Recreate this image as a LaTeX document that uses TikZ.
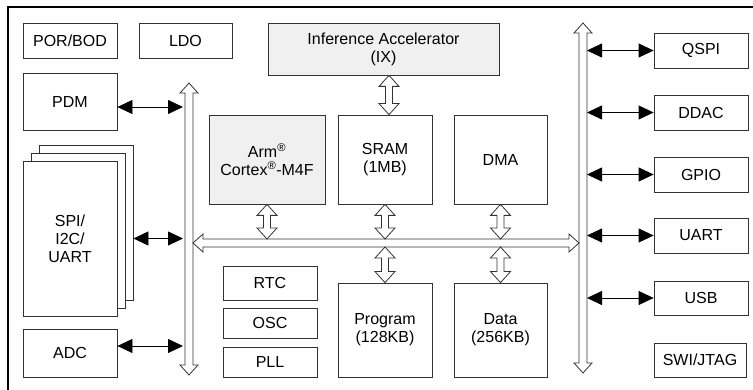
\documentclass[tikz,border=0pt]{standalone}
\usepackage{fontspec}
\setmainfont{Liberation Sans}
\usetikzlibrary{arrows.meta,calc,positioning}

% hollow double arrows: top/left end, bottom/right end, head half width, shaft half width, head length
\newcommand{\vbus}[5]{%
	\draw[busline] let \p1=(#1), \p2=(#2) in
		(\x1,\y1) -- (\x1+#3pt,\y1-#5pt) -- (\x1+#4pt,\y1-#5pt) -- (\x1+#4pt,\y2+#5pt)
		-- (\x1+#3pt,\y2+#5pt) -- (\x1,\y2) -- (\x1-#3pt,\y2+#5pt) -- (\x1-#4pt,\y2+#5pt)
		-- (\x1-#4pt,\y1-#5pt) -- (\x1-#3pt,\y1-#5pt) -- cycle;}
\newcommand{\hbus}[5]{%
	\draw[busline] let \p1=(#1), \p2=(#2) in
		(\x1,\y1) -- (\x1+#5pt,\y1+#3pt) -- (\x1+#5pt,\y1+#4pt) -- (\x2-#5pt,\y1+#4pt)
		-- (\x2-#5pt,\y1+#3pt) -- (\x2,\y1) -- (\x2-#5pt,\y1-#3pt) -- (\x2-#5pt,\y1-#4pt)
		-- (\x1+#5pt,\y1-#4pt) -- (\x1+#5pt,\y1-#3pt) -- cycle;}

\begin{document}
\begin{tikzpicture}[x=1pt,y=-1pt,
	blk/.style={draw=black!80,line width=0.8pt,fill=white,rectangle,minimum width=94pt,inner sep=0pt,align=center,font=\fontsize{16}{18}\selectfont},
	core/.style={blk,fill=gray!12},
	busnode/.style={rectangle,inner sep=0pt,outer sep=0pt},
	busline/.style={draw=black!80,line width=0.8pt,fill=white},
	sig/.style={{Triangle[length=15pt,width=14pt]}-{Triangle[length=15pt,width=14pt]},line width=0.8pt}]
	
	\clip (0,0) rectangle (753,390);
	
	% chip outline
	\draw[line width=2pt] (8,400) -- (8,7) -- (760,7);
	
	% power
	\node[blk,minimum height=35pt] (por) at (70,40.5) {POR/BOD};
	\node[blk,minimum width=93pt,minimum height=35pt] (ldo) at (185.5,40.5) {LDO};
	
	% Inference Accelerator
	\node[core,minimum width=231pt,minimum height=52pt] (ix) at (383.5,49) {Inference Accelerator\\(IX)};
	
	% left peripherals
	\node[blk,minimum height=57pt] (pdm) at (70,101.5) {PDM};
	\node[blk,minimum height=155pt] (spi3) at (86,222.5) {};
	\node[blk,minimum height=155pt] (spi2) at (78,230.5) {};
	\node[blk,minimum height=155pt] (spi) at (70,238.5) {SPI/\\I2C/\\UART};
	\node[blk,minimum height=48pt] (adc) at (70,353) {ADC};
	
	% core and memories
	\node[core,minimum width=116pt,minimum height=89pt] (arm) at (267,159.5) {Arm\textsuperscript{®}\\Cortex\textsuperscript{®}-M4F};
	\node[blk,minimum height=89pt] (sram) at (385,159.5) {SRAM\\(1MB)};
	\node[blk,minimum width=93pt,minimum height=89pt] (dma) at (500.5,159.5) {DMA};
	\node[blk,minimum height=94pt] (prog) at (385,330) {Program\\(128KB)};
	\node[blk,minimum width=93pt,minimum height=94pt] (data) at (500.5,330) {Data\\(256KB)};
	
	% clocks
	\node[blk,minimum height=34pt] (rtc) at (270,283) {RTC};
	\node[blk,minimum height=30pt] (osc) at (270,323) {OSC};
	\node[blk,minimum height=30pt] (pll) at (270,362) {PLL};
	
	% right peripherals
	\node[blk,minimum height=35pt] (qspi) at (701,50.5) {QSPI};
	\node[blk,minimum height=35pt] (ddac) at (701,112.5) {DDAC};
	\node[blk,minimum height=35pt] (gpio) at (701,174.5) {GPIO};
	\node[blk,minimum height=35pt] (uart) at (701,235.5) {UART};
	\node[blk,minimum height=34pt] (usb) at (701,298) {USB};
	\node[blk,minimum width=92pt,minimum height=34pt] (swi) at (700,360) {SWI/JTAG};
	
	% buses
	\node[busnode,minimum width=8pt,minimum height=292pt] (lbus) at (189,229) {};
	\node[busnode,minimum width=8pt,minimum height=350pt] (rbus) at (583,198) {};
	\node[busnode,minimum width=386pt,minimum height=8pt] (hbus) at (386,243) {};
	\vbus{lbus.north}{lbus.south}{9}{4}{10}
	\vbus{rbus.north}{rbus.south}{9}{4}{10}
	\hbus{hbus.west}{hbus.east}{9}{4}{10}
	
	% bus ports
	\coordinate (ixport) at ([xshift=5.5pt]ix.south);
	\vbus{ixport}{ixport |- sram.north}{10}{3.5}{11}
	\foreach \m in {arm,sram,dma}
		\vbus{\m.south}{\m.south |- hbus.north}{10}{3.5}{11};
	\foreach \m in {prog,data}
		\vbus{\m.north |- hbus.south}{\m.north}{10}{3.5}{11};
	
	% signals
	\coordinate (pdmio) at ([yshift=-5.5pt]pdm.east);
	\coordinate (adcio) at ([yshift=7pt]adc.east);
	\draw[sig] (pdmio) -- ([xshift=-2pt]pdmio -| lbus.west);
	\draw[sig] (spi3.east |- spi.east) -- ([xshift=-2pt]spi.east -| lbus.west);
	\draw[sig] (adcio) -- ([xshift=-2pt]adcio -| lbus.west);
	\foreach \n in {qspi,ddac,gpio,uart,usb}
		\draw[sig] (\n.west -| rbus.east) -- (\n.west);
	
\end{tikzpicture}
\end{document}
